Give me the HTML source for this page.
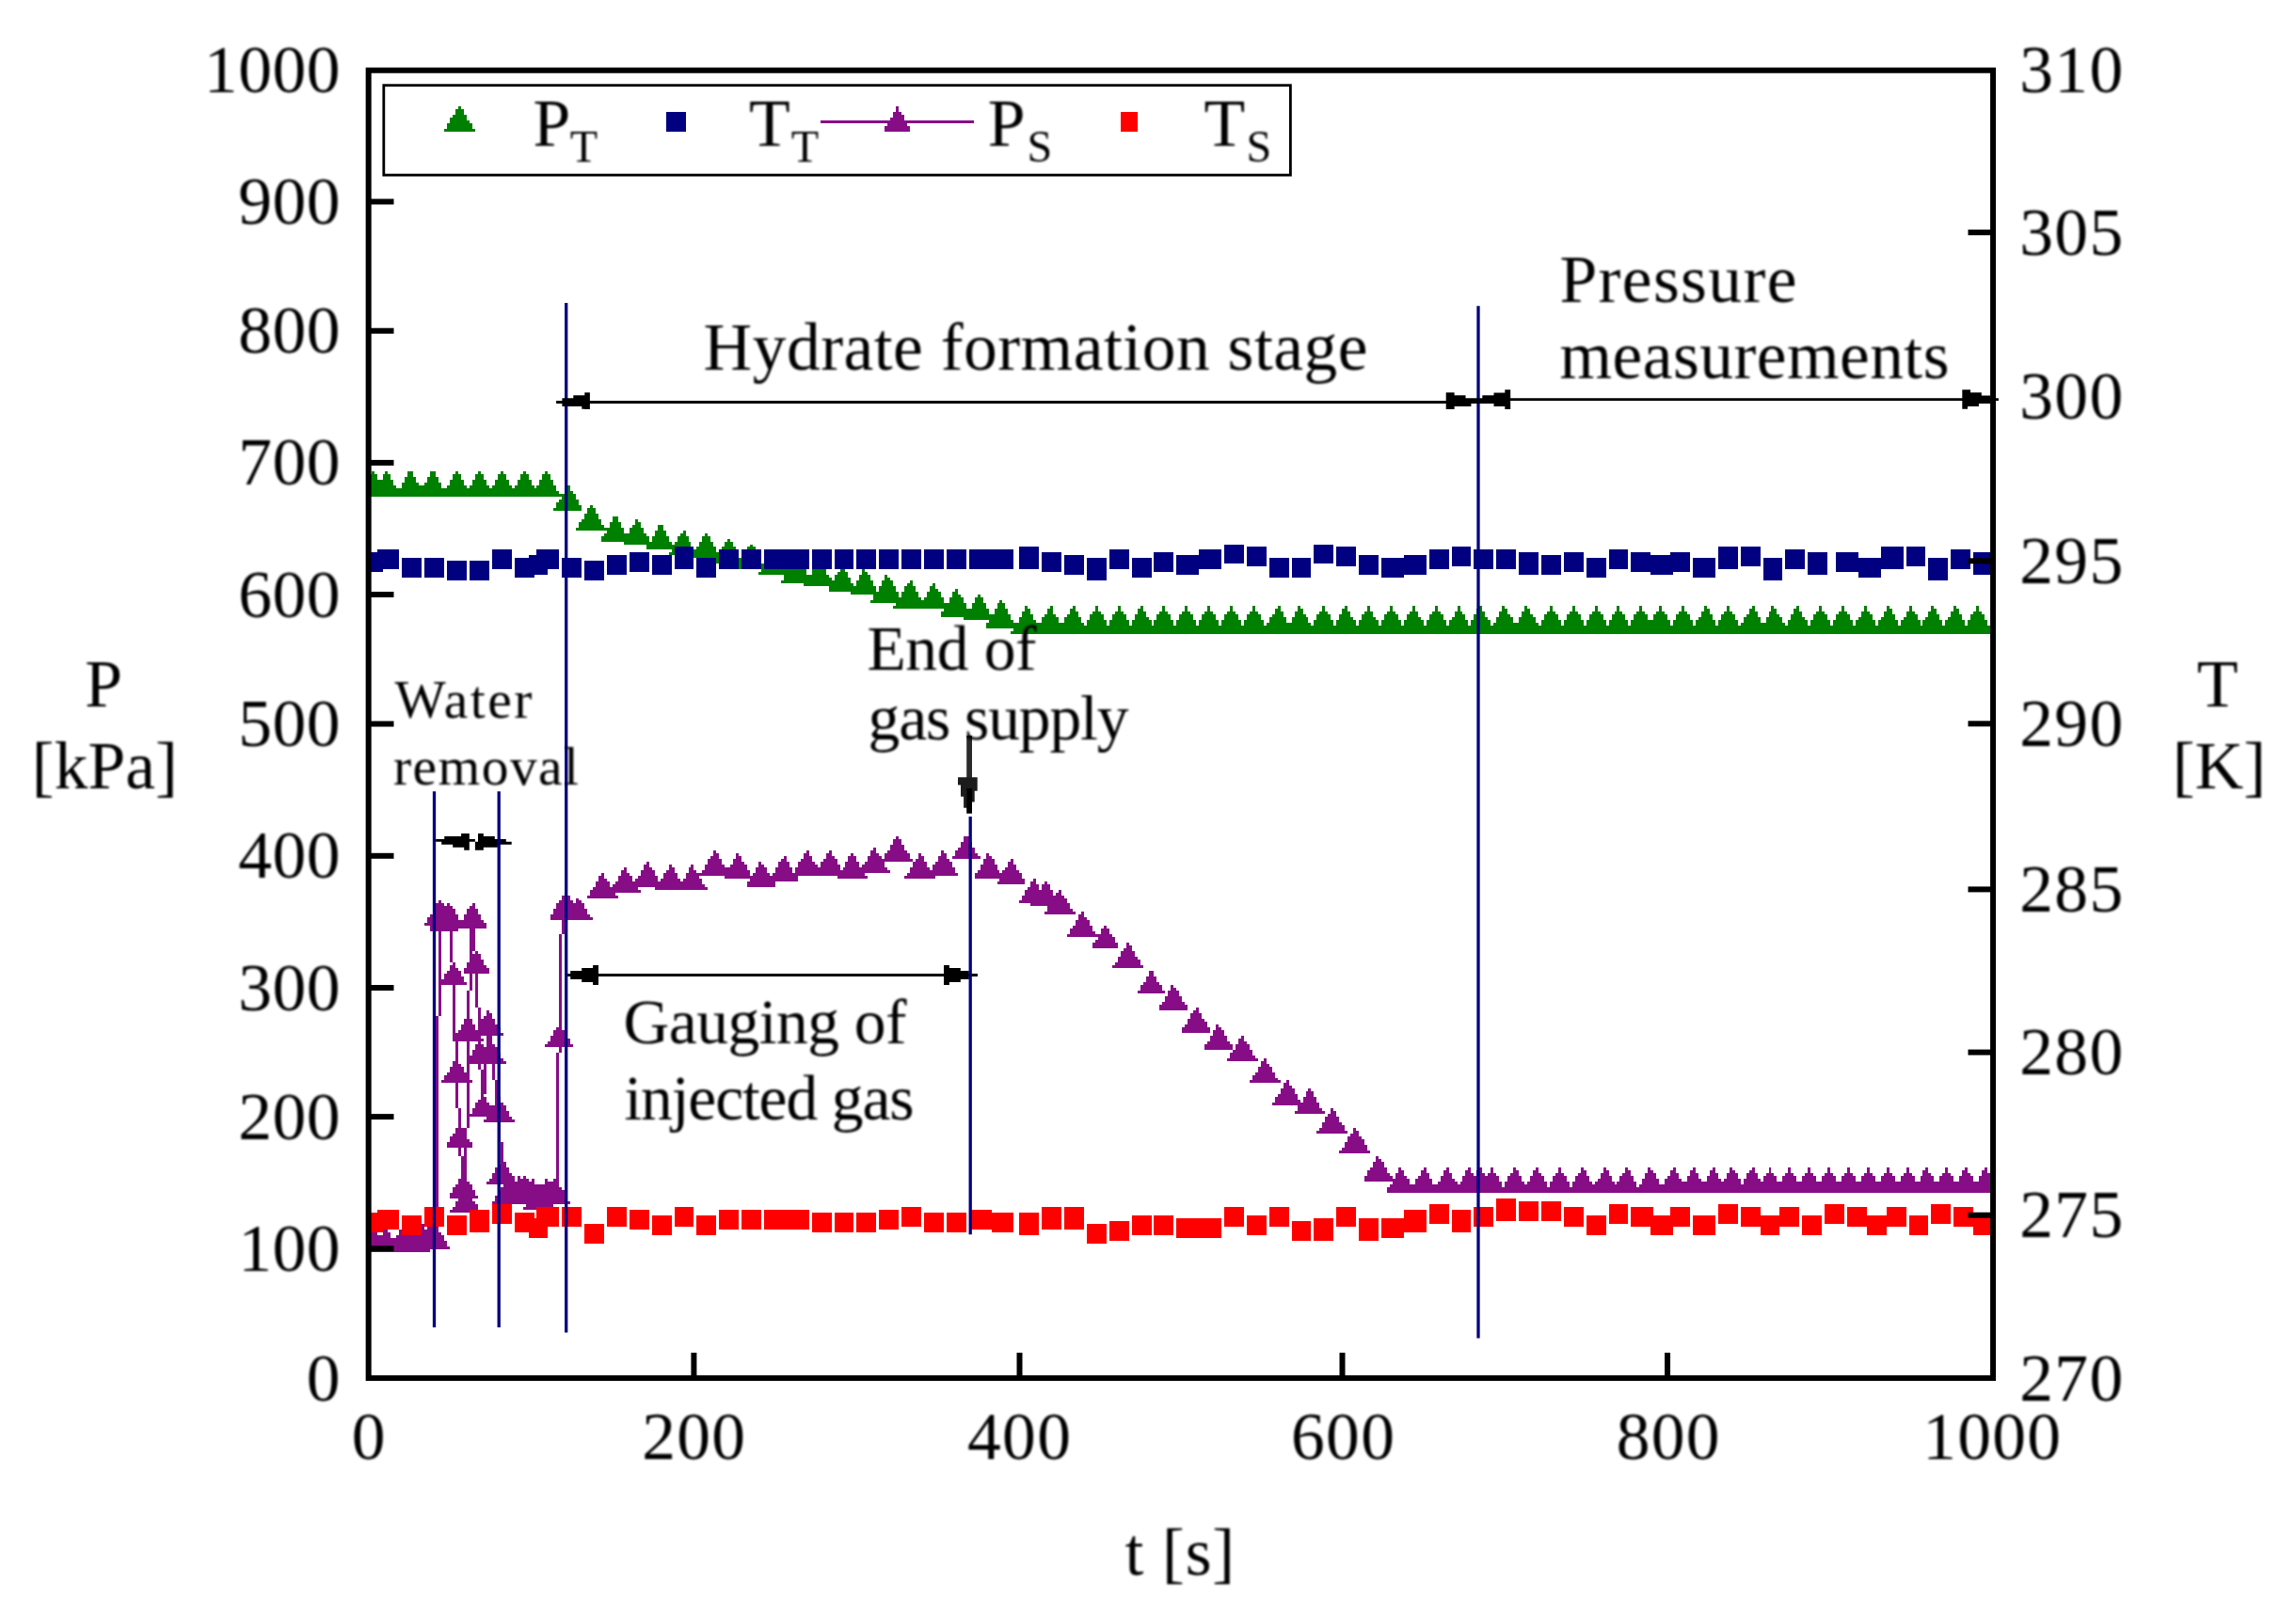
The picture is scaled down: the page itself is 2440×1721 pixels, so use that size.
<!DOCTYPE html>
<html lang="en"><head><meta charset="utf-8"><title>Hydrate formation: pressure and temperature vs time</title>
<style>html,body{margin:0;padding:0;background:#fff}svg{display:block}text{white-space:pre}</style></head>
<body>
<svg width="2440" height="1721" viewBox="0 0 2440 1721" font-family="'Liberation Serif', serif" fill="#000">
<rect width="2440" height="1721" fill="#fff"/>
<defs><filter id="soft" x="0" y="0" width="2440" height="1721" filterUnits="userSpaceOnUse"><feGaussianBlur stdDeviation="0.9"/></filter><filter id="soft2" x="0" y="0" width="2440" height="1721" filterUnits="userSpaceOnUse"><feGaussianBlur stdDeviation="0.55"/></filter><clipPath id="plot"><rect x="391.65" y="74.75" width="1726.4" height="1390.15"/></clipPath></defs>
<g filter="url(#soft2)">
<g clip-path="url(#plot)" shape-rendering="crispEdges">
<path fill="#008000" d="M395 501h3v3h-3zM392 504h9v3h-9zM392 507h9v3h-9zM389 510h15v3h-15zM389 513h18v3h-18zM386 516h21v3h-21zM386 519h23v3h-23zM383 522h26v3h-26zM380 525h32v3h-32zM409 501h3v3h-3zM407 504h8v3h-8zM407 507h8v3h-8zM404 510h14v3h-14zM404 513h14v3h-14zM401 516h20v3h-20zM398 519h26v3h-26zM398 522h26v3h-26zM395 525h32v3h-32zM433 501h6v3h-6zM433 504h6v3h-6zM430 507h12v3h-12zM430 510h12v3h-12zM427 513h18v3h-18zM427 516h21v3h-21zM424 519h24v3h-24zM421 522h30v3h-30zM421 525h30v3h-30zM457 501h6v3h-6zM457 504h6v3h-6zM454 507h12v3h-12zM454 510h12v3h-12zM451 513h18v3h-18zM448 516h21v3h-21zM448 519h24v3h-24zM445 522h30v3h-30zM445 525h30v3h-30zM484 501h3v3h-3zM481 504h9v3h-9zM481 507h9v3h-9zM478 510h15v3h-15zM478 513h15v3h-15zM475 516h21v3h-21zM472 519h24v3h-24zM472 522h27v3h-27zM469 525h33v3h-33zM508 501h3v3h-3zM505 504h9v3h-9zM505 507h9v3h-9zM502 510h15v3h-15zM502 513h15v3h-15zM499 516h21v3h-21zM496 519h27v3h-27zM496 522h27v3h-27zM493 525h33v3h-33zM532 501h3v3h-3zM529 504h9v3h-9zM529 507h9v3h-9zM526 510h15v3h-15zM526 513h15v3h-15zM523 516h21v3h-21zM520 519h27v3h-27zM520 522h27v3h-27zM517 525h33v3h-33zM556 501h3v3h-3zM553 504h9v3h-9zM553 507h9v3h-9zM550 510h15v3h-15zM550 513h15v3h-15zM547 516h21v3h-21zM544 519h24v3h-24zM544 522h26v3h-26zM541 525h32v3h-32zM579 501h3v3h-3zM576 504h9v3h-9zM576 507h9v3h-9zM573 510h15v3h-15zM573 513h15v3h-15zM570 516h21v3h-21zM568 519h23v3h-23zM568 522h26v3h-26zM565 525h32v3h-32zM603 516h3v3h-3zM600 519h6v3h-6zM600 522h9v3h-9zM597 525h15v3h-15zM597 528h15v3h-15zM594 531h21v3h-21zM591 534h24v3h-24zM591 537h27v3h-27zM588 540h30v3h-30zM627 537h3v3h-3zM624 540h9v3h-9zM624 543h9v3h-9zM621 546h15v3h-15zM621 549h15v3h-15zM618 552h21v3h-21zM615 555h24v3h-24zM615 558h27v3h-27zM612 561h33v3h-33zM651 549h6v3h-6zM651 552h6v3h-6zM648 555h12v3h-12zM648 558h12v3h-12zM645 561h18v3h-18zM645 564h18v3h-18zM642 567h24v3h-24zM639 570h30v3h-30zM639 573h30v3h-30zM675 552h3v3h-3zM675 555h6v3h-6zM672 558h9v3h-9zM669 561h15v3h-15zM669 564h15v3h-15zM666 567h21v3h-21zM666 570h24v3h-24zM663 573h27v3h-27zM663 576h30v3h-30zM699 558h6v3h-6zM699 561h6v3h-6zM696 564h12v3h-12zM696 567h12v3h-12zM693 570h18v3h-18zM693 573h18v3h-18zM690 576h24v3h-24zM687 579h30v2h-30zM687 581h30v3h-30zM726 564h3v3h-3zM723 567h6v3h-6zM720 570h12v3h-12zM720 573h12v3h-12zM717 576h17v3h-17zM717 579h17v2h-17zM714 581h23v3h-23zM714 584h26v3h-26zM711 587h29v3h-29zM749 567h3v3h-3zM746 570h9v3h-9zM746 573h9v3h-9zM743 576h15v3h-15zM743 579h15v2h-15zM740 581h21v3h-21zM737 584h24v3h-24zM737 587h27v3h-27zM734 590h33v3h-33zM773 573h3v3h-3zM770 576h9v3h-9zM770 579h9v2h-9zM767 581h15v3h-15zM767 584h15v3h-15zM764 587h21v3h-21zM764 590h21v3h-21zM761 593h27v3h-27zM758 596h33v3h-33zM797 579h3v2h-3zM794 581h9v3h-9zM794 584h9v3h-9zM791 587h15v3h-15zM791 590h15v3h-15zM788 593h21v3h-21zM785 596h24v3h-24zM785 599h27v3h-27zM782 602h33v3h-33zM821 584h3v3h-3zM818 587h9v3h-9zM818 590h9v3h-9zM815 593h15v3h-15zM815 596h15v3h-15zM812 599h21v3h-21zM812 602h24v3h-24zM809 605h27v3h-27zM806 608h33v3h-33zM845 590h3v3h-3zM845 593h6v3h-6zM842 596h9v3h-9zM839 599h15v3h-15zM839 602h15v3h-15zM836 605h21v3h-21zM836 608h21v3h-21zM833 611h27v3h-27zM833 614h30v3h-30zM830 617h33v3h-33zM869 596h3v3h-3zM866 599h9v3h-9zM866 602h9v3h-9zM863 605h15v3h-15zM863 608h15v3h-15zM860 611h21v3h-21zM860 614h24v3h-24zM857 617h27v3h-27zM854 620h33v3h-33zM893 602h3v3h-3zM893 605h5v3h-5zM890 608h11v3h-11zM887 611h14v3h-14zM887 614h17v3h-17zM884 617h20v3h-20zM884 620h23v3h-23zM881 623h26v3h-26zM881 626h29v3h-29zM916 605h3v3h-3zM916 608h6v3h-6zM913 611h12v3h-12zM913 614h12v3h-12zM910 617h18v3h-18zM910 620h18v3h-18zM907 623h24v3h-24zM904 626h27v3h-27zM904 629h30v3h-30zM940 611h3v3h-3zM940 614h6v3h-6zM937 617h12v3h-12zM937 620h12v3h-12zM934 623h18v3h-18zM934 626h18v3h-18zM931 629h24v3h-24zM928 632h27v3h-27zM928 635h30v3h-30zM925 638h36v3h-36zM967 617h3v3h-3zM964 620h6v3h-6zM961 623h12v3h-12zM961 626h12v3h-12zM958 629h18v3h-18zM958 632h18v3h-18zM955 635h24v3h-24zM955 638h27v3h-27zM952 641h30v3h-30zM949 644h36v3h-36zM991 620h3v3h-3zM988 623h6v3h-6zM988 626h9v3h-9zM985 629h15v3h-15zM985 632h15v3h-15zM982 635h21v3h-21zM979 638h24v3h-24zM979 641h27v3h-27zM976 644h30v3h-30zM1015 626h3v3h-3zM1012 629h6v3h-6zM1012 632h9v3h-9zM1009 635h15v3h-15zM1009 638h15v3h-15zM1006 641h21v3h-21zM1003 644h24v3h-24zM1003 647h27v3h-27zM1000 650h30v3h-30zM1000 653h33v3h-33zM1039 632h3v3h-3zM1036 635h9v3h-9zM1036 638h9v3h-9zM1033 641h15v3h-15zM1033 644h15v3h-15zM1030 647h21v3h-21zM1030 650h21v3h-21zM1027 653h27v3h-27zM1024 656h33v3h-33zM1062 638h3v3h-3zM1060 641h8v3h-8zM1060 644h8v3h-8zM1057 647h14v3h-14zM1057 650h14v3h-14zM1054 653h20v3h-20zM1054 656h20v3h-20zM1051 659h26v3h-26zM1048 662h32v3h-32zM1048 665h32v3h-32zM1089 644h3v3h-3zM1089 647h6v3h-6zM1086 650h9v3h-9zM1086 653h12v3h-12zM1083 656h15v3h-15zM1083 659h18v3h-18zM1080 662h24v3h-24zM1080 665h24v3h-24zM1077 668h30v3h-30zM1074 671h33v3h-33zM1116 644h3v3h-3zM1113 647h6v3h-6zM1113 650h6v3h-6zM1110 653h12v3h-12zM1107 656h18v3h-18zM1107 659h18v3h-18zM1104 662h24v3h-24zM1104 665h24v3h-24zM1101 668h30v3h-30zM1101 671h33v3h-33zM1140 644h3v3h-3zM1137 647h6v3h-6zM1137 650h9v3h-9zM1134 653h12v3h-12zM1131 656h18v3h-18zM1131 659h18v3h-18zM1128 662h24v3h-24zM1128 665h24v3h-24zM1125 668h30v3h-30zM1125 671h33v3h-33zM1164 644h3v3h-3zM1164 647h3v3h-3zM1161 650h9v3h-9zM1158 653h15v3h-15zM1158 656h15v3h-15zM1155 659h21v3h-21zM1155 662h21v3h-21zM1152 665h27v3h-27zM1152 668h27v3h-27zM1149 671h33v3h-33zM1188 644h3v3h-3zM1188 647h3v3h-3zM1185 650h9v3h-9zM1182 653h15v3h-15zM1182 656h15v3h-15zM1179 659h21v3h-21zM1179 662h21v3h-21zM1176 665h27v3h-27zM1176 668h27v3h-27zM1173 671h33v3h-33zM1212 644h3v3h-3zM1209 647h6v3h-6zM1209 650h9v3h-9zM1206 653h12v3h-12zM1206 656h15v3h-15zM1203 659h21v3h-21zM1203 662h21v3h-21zM1200 665h26v3h-26zM1197 668h29v3h-29zM1197 671h32v3h-32zM1235 644h3v3h-3zM1235 647h3v3h-3zM1232 650h9v3h-9zM1229 653h15v3h-15zM1229 656h15v3h-15zM1226 659h21v3h-21zM1226 662h21v3h-21zM1224 665h26v3h-26zM1224 668h26v3h-26zM1221 671h32v3h-32zM1259 644h3v3h-3zM1259 647h3v3h-3zM1256 650h9v3h-9zM1253 653h15v3h-15zM1253 656h15v3h-15zM1250 659h21v3h-21zM1250 662h21v3h-21zM1247 665h27v3h-27zM1247 668h27v3h-27zM1244 671h33v3h-33zM1283 644h3v3h-3zM1283 647h3v3h-3zM1280 650h9v3h-9zM1277 653h15v3h-15zM1277 656h15v3h-15zM1274 659h21v3h-21zM1274 662h21v3h-21zM1271 665h27v3h-27zM1271 668h27v3h-27zM1268 671h33v3h-33zM1307 644h3v3h-3zM1307 647h3v3h-3zM1304 650h9v3h-9zM1301 653h15v3h-15zM1301 656h15v3h-15zM1298 659h21v3h-21zM1298 662h21v3h-21zM1295 665h27v3h-27zM1295 668h27v3h-27zM1292 671h33v3h-33zM1331 644h3v3h-3zM1331 647h3v3h-3zM1328 650h9v3h-9zM1325 653h15v3h-15zM1325 656h15v3h-15zM1322 659h21v3h-21zM1322 662h21v3h-21zM1319 665h27v3h-27zM1319 668h27v3h-27zM1316 671h33v3h-33zM1358 644h3v3h-3zM1355 647h6v3h-6zM1355 650h9v3h-9zM1352 653h12v3h-12zM1349 656h18v3h-18zM1349 659h18v3h-18zM1346 662h24v3h-24zM1346 665h24v3h-24zM1343 668h30v3h-30zM1343 671h33v3h-33zM1379 644h3v3h-3zM1379 647h6v3h-6zM1376 650h9v3h-9zM1376 653h12v3h-12zM1373 656h17v3h-17zM1373 659h17v3h-17zM1370 662h23v3h-23zM1370 665h23v3h-23zM1367 668h29v3h-29zM1364 671h32v3h-32zM1405 644h3v3h-3zM1405 647h3v3h-3zM1402 650h9v3h-9zM1399 653h15v3h-15zM1399 656h15v3h-15zM1396 659h21v3h-21zM1396 662h21v3h-21zM1393 665h27v3h-27zM1393 668h27v3h-27zM1390 671h33v3h-33zM1429 644h3v3h-3zM1426 647h6v3h-6zM1426 650h9v3h-9zM1423 653h12v3h-12zM1423 656h15v3h-15zM1420 659h21v3h-21zM1420 662h21v3h-21zM1417 665h27v3h-27zM1414 668h30v3h-30zM1414 671h33v3h-33zM1453 644h3v3h-3zM1453 647h3v3h-3zM1450 650h9v3h-9zM1447 653h12v3h-12zM1447 656h15v3h-15zM1444 659h21v3h-21zM1444 662h21v3h-21zM1441 665h27v3h-27zM1441 668h27v3h-27zM1438 671h33v3h-33zM1477 644h3v3h-3zM1477 647h3v3h-3zM1474 650h9v3h-9zM1471 653h15v3h-15zM1471 656h15v3h-15zM1468 659h21v3h-21zM1468 662h21v3h-21zM1465 665h27v3h-27zM1465 668h27v3h-27zM1462 671h33v3h-33zM1501 644h3v3h-3zM1501 647h3v3h-3zM1498 650h9v3h-9zM1495 653h12v3h-12zM1495 656h15v3h-15zM1492 659h21v3h-21zM1492 662h21v3h-21zM1489 665h27v3h-27zM1489 668h27v3h-27zM1486 671h33v3h-33zM1525 644h3v3h-3zM1525 647h3v3h-3zM1522 650h9v3h-9zM1519 653h15v3h-15zM1519 656h15v3h-15zM1516 659h21v3h-21zM1516 662h21v3h-21zM1513 665h27v3h-27zM1513 668h27v3h-27zM1510 671h33v3h-33zM1549 644h3v3h-3zM1549 647h3v3h-3zM1546 650h8v3h-8zM1546 653h11v3h-11zM1543 656h14v3h-14zM1540 659h20v3h-20zM1540 662h20v3h-20zM1537 665h26v3h-26zM1537 668h26v3h-26zM1534 671h32v3h-32zM1572 644h3v3h-3zM1569 647h6v3h-6zM1569 650h9v3h-9zM1566 653h12v3h-12zM1566 656h15v3h-15zM1563 659h21v3h-21zM1563 662h21v3h-21zM1560 665h27v3h-27zM1557 668h30v3h-30zM1557 671h33v3h-33zM1596 644h3v3h-3zM1596 647h6v3h-6zM1593 650h9v3h-9zM1593 653h12v3h-12zM1590 656h18v3h-18zM1590 659h18v3h-18zM1587 662h24v3h-24zM1587 665h24v3h-24zM1584 668h30v3h-30zM1581 671h33v3h-33zM1620 644h3v3h-3zM1620 647h6v3h-6zM1617 650h9v3h-9zM1617 653h12v3h-12zM1614 656h18v3h-18zM1614 659h18v3h-18zM1611 662h24v3h-24zM1611 665h24v3h-24zM1608 668h30v3h-30zM1605 671h33v3h-33zM1647 644h3v3h-3zM1647 647h3v3h-3zM1644 650h9v3h-9zM1641 653h15v3h-15zM1641 656h15v3h-15zM1638 659h21v3h-21zM1638 662h21v3h-21zM1635 665h27v3h-27zM1635 668h27v3h-27zM1632 671h33v3h-33zM1671 644h3v3h-3zM1671 647h3v3h-3zM1668 650h9v3h-9zM1665 653h15v3h-15zM1665 656h15v3h-15zM1662 659h21v3h-21zM1662 662h21v3h-21zM1659 665h27v3h-27zM1659 668h27v3h-27zM1656 671h33v3h-33zM1695 644h3v3h-3zM1695 647h3v3h-3zM1692 650h9v3h-9zM1689 653h15v3h-15zM1689 656h15v3h-15zM1686 659h21v3h-21zM1686 662h21v3h-21zM1683 665h27v3h-27zM1683 668h27v3h-27zM1680 671h33v3h-33zM1718 644h3v3h-3zM1718 647h3v3h-3zM1716 650h8v3h-8zM1713 653h14v3h-14zM1713 656h14v3h-14zM1710 659h20v3h-20zM1710 662h20v3h-20zM1707 665h26v3h-26zM1707 668h26v3h-26zM1704 671h32v3h-32zM1742 644h3v3h-3zM1742 647h3v3h-3zM1739 650h9v3h-9zM1736 653h15v3h-15zM1736 656h15v3h-15zM1733 659h21v3h-21zM1733 662h21v3h-21zM1730 665h27v3h-27zM1730 668h27v3h-27zM1727 671h33v3h-33zM1763 644h3v3h-3zM1763 647h3v3h-3zM1760 650h9v3h-9zM1757 653h15v3h-15zM1757 656h15v3h-15zM1754 659h21v3h-21zM1754 662h21v3h-21zM1751 665h27v3h-27zM1751 668h27v3h-27zM1748 671h33v3h-33zM1787 644h3v3h-3zM1787 647h3v3h-3zM1784 650h9v3h-9zM1781 653h15v3h-15zM1781 656h15v3h-15zM1778 659h21v3h-21zM1778 662h21v3h-21zM1775 665h27v3h-27zM1775 668h27v3h-27zM1772 671h33v3h-33zM1811 644h3v3h-3zM1811 647h6v3h-6zM1808 650h9v3h-9zM1808 653h12v3h-12zM1805 656h15v3h-15zM1802 659h21v3h-21zM1802 662h21v3h-21zM1799 665h27v3h-27zM1799 668h30v3h-30zM1796 671h33v3h-33zM1835 644h3v3h-3zM1835 647h3v3h-3zM1832 650h9v3h-9zM1829 653h15v3h-15zM1829 656h15v3h-15zM1826 659h21v3h-21zM1826 662h21v3h-21zM1823 665h27v3h-27zM1823 668h27v3h-27zM1820 671h33v3h-33zM1862 644h3v3h-3zM1859 647h6v3h-6zM1859 650h9v3h-9zM1856 653h12v3h-12zM1853 656h18v3h-18zM1853 659h18v3h-18zM1850 662h24v3h-24zM1850 665h24v3h-24zM1847 668h30v3h-30zM1847 671h33v3h-33zM1882 644h3v3h-3zM1882 647h6v3h-6zM1880 650h8v3h-8zM1880 653h11v3h-11zM1877 656h17v3h-17zM1877 659h17v3h-17zM1874 662h23v3h-23zM1874 665h23v3h-23zM1871 668h29v3h-29zM1868 671h32v3h-32zM1909 644h3v3h-3zM1906 647h6v3h-6zM1906 650h9v3h-9zM1903 653h12v3h-12zM1903 656h15v3h-15zM1900 659h21v3h-21zM1900 662h21v3h-21zM1897 665h27v3h-27zM1894 668h30v3h-30zM1894 671h33v3h-33zM1933 644h3v3h-3zM1933 647h3v3h-3zM1930 650h9v3h-9zM1927 653h15v3h-15zM1927 656h15v3h-15zM1924 659h21v3h-21zM1924 662h21v3h-21zM1921 665h27v3h-27zM1921 668h27v3h-27zM1918 671h33v3h-33zM1957 644h3v3h-3zM1957 647h3v3h-3zM1954 650h9v3h-9zM1951 653h15v3h-15zM1951 656h15v3h-15zM1948 659h21v3h-21zM1948 662h21v3h-21zM1945 665h27v3h-27zM1945 668h27v3h-27zM1942 671h33v3h-33zM1981 644h3v3h-3zM1981 647h3v3h-3zM1978 650h9v3h-9zM1978 653h12v3h-12zM1975 656h15v3h-15zM1972 659h21v3h-21zM1972 662h21v3h-21zM1969 665h27v3h-27zM1969 668h27v3h-27zM1966 671h33v3h-33zM2005 644h3v3h-3zM2005 647h6v3h-6zM2002 650h9v3h-9zM2002 653h12v3h-12zM1999 656h15v3h-15zM1996 659h21v3h-21zM1996 662h21v3h-21zM1993 665h27v3h-27zM1993 668h30v3h-30zM1990 671h33v3h-33zM2029 644h3v3h-3zM2029 647h3v3h-3zM2026 650h9v3h-9zM2026 653h12v3h-12zM2023 656h15v3h-15zM2020 659h21v3h-21zM2020 662h21v3h-21zM2017 665h26v3h-26zM2017 668h26v3h-26zM2014 671h32v3h-32zM2052 644h3v3h-3zM2052 647h6v3h-6zM2049 650h9v3h-9zM2049 653h12v3h-12zM2046 656h15v3h-15zM2043 659h21v3h-21zM2043 662h21v3h-21zM2041 665h26v3h-26zM2041 668h29v3h-29zM2038 671h32v3h-32zM2076 644h3v3h-3zM2076 647h6v3h-6zM2073 650h9v3h-9zM2073 653h12v3h-12zM2070 656h15v3h-15zM2067 659h21v3h-21zM2067 662h21v3h-21zM2064 665h27v3h-27zM2064 668h30v3h-30zM2061 671h33v3h-33zM2100 644h3v3h-3zM2100 647h3v3h-3zM2097 650h9v3h-9zM2094 653h15v3h-15zM2094 656h15v3h-15zM2091 659h21v3h-21zM2091 662h21v3h-21zM2088 665h27v3h-27zM2088 668h27v3h-27zM2085 671h33v3h-33z"/>
<path fill="#000080" d="M386 587h21v21h-21zM401 584h23v21h-23zM427 593h21v21h-21zM451 593h21v21h-21zM475 596h21v21h-21zM499 596h21v21h-21zM523 584h21v21h-21zM547 593h21v21h-21zM562 590h20v21h-20zM570 584h24v21h-24zM597 593h21v21h-21zM621 596h21v21h-21zM645 590h21v21h-21zM669 587h21v21h-21zM693 590h21v21h-21zM717 581h20v24h-20zM740 593h21v21h-21zM764 584h21v21h-21zM788 584h21v21h-21zM812 584h24v21h-24zM836 584h24v21h-24zM863 584h21v21h-21zM887 584h20v21h-20zM910 584h21v21h-21zM934 584h21v21h-21zM958 584h21v21h-21zM982 584h21v21h-21zM1006 584h21v21h-21zM1030 584h24v21h-24zM1054 584h23v21h-23zM1083 581h21v24h-21zM1107 587h21v21h-21zM1131 590h21v21h-21zM1155 593h21v24h-21zM1179 584h21v21h-21zM1203 593h21v21h-21zM1226 587h21v21h-21zM1250 590h24v21h-24zM1274 584h24v21h-24zM1301 579h21v20h-21zM1325 581h21v21h-21zM1349 593h21v21h-21zM1373 593h20v21h-20zM1396 579h21v20h-21zM1420 581h21v21h-21zM1444 590h21v21h-21zM1468 593h24v21h-24zM1492 590h24v21h-24zM1519 584h21v21h-21zM1543 581h20v21h-20zM1566 584h21v21h-21zM1590 584h21v21h-21zM1614 587h21v24h-21zM1638 590h21v21h-21zM1662 587h21v21h-21zM1686 593h21v21h-21zM1710 584h20v21h-20zM1733 587h21v21h-21zM1754 590h24v21h-24zM1775 587h21v21h-21zM1799 593h24v21h-24zM1826 581h21v24h-21zM1850 581h21v21h-21zM1874 593h20v24h-20zM1897 584h21v21h-21zM1921 587h21v24h-21zM1951 587h24v21h-24zM1975 593h24v21h-24zM1999 581h24v24h-24zM2026 581h20v21h-20zM2049 593h21v24h-21zM2073 584h21v21h-21zM2097 587h21v24h-21z"/>
<path fill="#870b87" d="M392 1316h3v3h-3zM395 1316h3v3h-3zM398 1316h3v3h-3zM401 1316h3v3h-3zM404 1316h3v3h-3zM407 1316h2v3h-2zM409 1316h3v3h-3zM412 1316h3v3h-3zM415 1316h3v3h-3zM418 1316h3v3h-3zM421 1316h3v3h-3zM424 1316h3v3h-3zM427 1316h3v3h-3zM430 1316h3v3h-3zM433 1316h3v3h-3zM436 1316h3v3h-3zM439 1316h3v3h-3zM442 1316h3v3h-3zM445 1313h3v3h-3zM445 1316h3v3h-3zM448 1313h3v3h-3zM451 1313h3v3h-3zM454 1313h3v3h-3zM457 1313h3v3h-3zM460 1304h3v3h-3zM460 1307h3v3h-3zM460 1310h3v3h-3zM460 1313h3v3h-3zM463 1080h3v3h-3zM463 1083h3v3h-3zM463 1086h3v3h-3zM463 1089h3v3h-3zM463 1092h3v3h-3zM463 1095h3v3h-3zM463 1098h3v3h-3zM463 1101h3v3h-3zM463 1104h3v3h-3zM463 1107h3v3h-3zM463 1110h3v3h-3zM463 1113h3v3h-3zM463 1116h3v3h-3zM463 1119h3v3h-3zM463 1122h3v3h-3zM463 1125h3v3h-3zM463 1128h3v3h-3zM463 1131h3v3h-3zM463 1134h3v3h-3zM463 1137h3v3h-3zM463 1140h3v3h-3zM463 1143h3v3h-3zM463 1146h3v2h-3zM463 1148h3v3h-3zM463 1151h3v3h-3zM463 1154h3v3h-3zM463 1157h3v3h-3zM463 1160h3v3h-3zM463 1163h3v3h-3zM463 1166h3v3h-3zM463 1169h3v3h-3zM463 1172h3v3h-3zM463 1175h3v3h-3zM463 1178h3v3h-3zM463 1181h3v3h-3zM463 1184h3v3h-3zM463 1187h3v3h-3zM463 1190h3v3h-3zM463 1193h3v3h-3zM463 1196h3v3h-3zM463 1199h3v3h-3zM463 1202h3v3h-3zM463 1205h3v3h-3zM463 1208h3v3h-3zM463 1211h3v3h-3zM463 1214h3v3h-3zM463 1217h3v3h-3zM463 1220h3v3h-3zM463 1223h3v3h-3zM463 1226h3v3h-3zM463 1229h3v3h-3zM463 1232h3v3h-3zM463 1235h3v3h-3zM463 1238h3v3h-3zM463 1241h3v3h-3zM463 1244h3v3h-3zM463 1247h3v3h-3zM463 1250h3v3h-3zM463 1253h3v3h-3zM463 1256h3v3h-3zM463 1259h3v3h-3zM463 1262h3v3h-3zM463 1265h3v3h-3zM463 1268h3v3h-3zM463 1271h3v3h-3zM463 1274h3v3h-3zM463 1277h3v3h-3zM463 1280h3v3h-3zM463 1283h3v3h-3zM463 1286h3v3h-3zM463 1289h3v3h-3zM463 1292h3v3h-3zM463 1295h3v3h-3zM463 1298h3v3h-3zM463 1301h3v3h-3zM466 969h3v3h-3zM466 972h3v3h-3zM466 975h3v3h-3zM466 978h3v3h-3zM466 981h3v3h-3zM466 984h3v3h-3zM466 987h3v3h-3zM466 990h3v3h-3zM466 993h3v3h-3zM466 996h3v3h-3zM466 999h3v3h-3zM466 1002h3v3h-3zM466 1005h3v3h-3zM466 1008h3v3h-3zM466 1011h3v3h-3zM466 1014h3v3h-3zM466 1017h3v3h-3zM466 1020h3v3h-3zM466 1023h3v3h-3zM466 1026h3v3h-3zM466 1029h3v3h-3zM466 1032h3v3h-3zM466 1035h3v3h-3zM466 1038h3v3h-3zM466 1041h3v3h-3zM466 1044h3v3h-3zM466 1047h3v3h-3zM466 1050h3v3h-3zM466 1053h3v3h-3zM466 1056h3v3h-3zM466 1059h3v3h-3zM466 1062h3v3h-3zM466 1065h3v3h-3zM466 1068h3v3h-3zM466 1071h3v3h-3zM466 1074h3v3h-3zM466 1077h3v3h-3zM469 972h3v3h-3zM472 975h3v3h-3zM475 972h3v3h-3zM478 975h3v3h-3zM478 978h3v3h-3zM478 981h3v3h-3zM478 984h3v3h-3zM478 987h3v3h-3zM478 990h3v3h-3zM478 993h3v3h-3zM478 996h3v3h-3zM478 999h3v3h-3zM478 1002h3v3h-3zM478 1005h3v3h-3zM478 1008h3v3h-3zM478 1011h3v3h-3zM478 1014h3v3h-3zM478 1017h3v3h-3zM478 1020h3v3h-3zM481 1023h3v3h-3zM481 1026h3v3h-3zM481 1029h3v3h-3zM481 1032h3v3h-3zM481 1035h3v3h-3zM481 1038h3v3h-3zM481 1041h3v3h-3zM481 1044h3v3h-3zM481 1047h3v3h-3zM481 1050h3v3h-3zM481 1053h3v3h-3zM481 1056h3v3h-3zM481 1059h3v3h-3zM481 1062h3v3h-3zM481 1065h3v3h-3zM481 1068h3v3h-3zM481 1071h3v3h-3zM481 1074h3v3h-3zM481 1077h3v3h-3zM481 1080h3v3h-3zM481 1083h3v3h-3zM481 1086h3v3h-3zM481 1089h3v3h-3zM481 1092h3v3h-3zM481 1095h3v3h-3zM481 1098h3v3h-3zM481 1101h3v3h-3zM484 1104h3v3h-3zM484 1107h3v3h-3zM484 1110h3v3h-3zM484 1113h3v3h-3zM484 1116h3v3h-3zM484 1119h3v3h-3zM484 1122h3v3h-3zM484 1125h3v3h-3zM484 1128h3v3h-3zM484 1131h3v3h-3zM484 1134h3v3h-3zM484 1137h3v3h-3zM484 1140h3v3h-3zM484 1143h3v3h-3zM484 1146h3v2h-3zM484 1148h3v3h-3zM484 1151h3v3h-3zM484 1154h3v3h-3zM484 1157h3v3h-3zM484 1160h3v3h-3zM484 1163h3v3h-3zM484 1166h3v3h-3zM484 1169h3v3h-3zM484 1172h3v3h-3zM484 1175h3v3h-3zM487 1178h3v3h-3zM487 1181h3v3h-3zM487 1184h3v3h-3zM487 1187h3v3h-3zM487 1190h3v3h-3zM487 1193h3v3h-3zM487 1196h3v3h-3zM487 1199h3v3h-3zM487 1202h3v3h-3zM487 1205h3v3h-3zM487 1208h3v3h-3zM487 1211h3v3h-3zM487 1214h3v3h-3zM487 1217h3v3h-3zM487 1220h3v3h-3zM487 1223h3v3h-3zM487 1226h3v3h-3zM490 1229h3v3h-3zM490 1232h3v3h-3zM490 1235h3v3h-3zM490 1238h3v3h-3zM490 1241h3v3h-3zM490 1244h3v3h-3zM490 1247h3v3h-3zM490 1250h3v3h-3zM490 1253h3v3h-3zM490 1256h3v3h-3zM490 1259h3v3h-3zM490 1262h3v3h-3zM493 1199h3v3h-3zM493 1202h3v3h-3zM493 1205h3v3h-3zM493 1208h3v3h-3zM493 1211h3v3h-3zM493 1214h3v3h-3zM493 1217h3v3h-3zM493 1220h3v3h-3zM493 1223h3v3h-3zM493 1226h3v3h-3zM493 1229h3v3h-3zM493 1232h3v3h-3zM493 1235h3v3h-3zM493 1238h3v3h-3zM493 1241h3v3h-3zM493 1244h3v3h-3zM493 1247h3v3h-3zM493 1250h3v3h-3zM493 1253h3v3h-3zM493 1256h3v3h-3zM493 1259h3v3h-3zM493 1262h3v3h-3zM493 1265h3v3h-3zM493 1268h3v3h-3zM493 1271h3v3h-3zM493 1274h3v3h-3zM496 1053h3v3h-3zM496 1056h3v3h-3zM496 1059h3v3h-3zM496 1062h3v3h-3zM496 1065h3v3h-3zM496 1068h3v3h-3zM496 1071h3v3h-3zM496 1074h3v3h-3zM496 1077h3v3h-3zM496 1080h3v3h-3zM496 1083h3v3h-3zM496 1086h3v3h-3zM496 1089h3v3h-3zM496 1092h3v3h-3zM496 1095h3v3h-3zM496 1098h3v3h-3zM496 1101h3v3h-3zM496 1104h3v3h-3zM496 1107h3v3h-3zM496 1110h3v3h-3zM496 1113h3v3h-3zM496 1116h3v3h-3zM496 1119h3v3h-3zM496 1122h3v3h-3zM496 1125h3v3h-3zM496 1128h3v3h-3zM496 1131h3v3h-3zM496 1134h3v3h-3zM496 1137h3v3h-3zM496 1140h3v3h-3zM496 1143h3v3h-3zM496 1146h3v2h-3zM496 1148h3v3h-3zM496 1151h3v3h-3zM496 1154h3v3h-3zM496 1157h3v3h-3zM496 1160h3v3h-3zM496 1163h3v3h-3zM496 1166h3v3h-3zM496 1169h3v3h-3zM496 1172h3v3h-3zM496 1175h3v3h-3zM496 1178h3v3h-3zM496 1181h3v3h-3zM496 1184h3v3h-3zM496 1187h3v3h-3zM496 1190h3v3h-3zM496 1193h3v3h-3zM496 1196h3v3h-3zM499 975h3v3h-3zM499 978h3v3h-3zM499 981h3v3h-3zM499 984h3v3h-3zM499 987h3v3h-3zM499 990h3v3h-3zM499 993h3v3h-3zM499 996h3v3h-3zM499 999h3v3h-3zM499 1002h3v3h-3zM499 1005h3v3h-3zM499 1008h3v3h-3zM499 1011h3v3h-3zM499 1014h3v3h-3zM499 1017h3v3h-3zM499 1020h3v3h-3zM499 1023h3v3h-3zM499 1026h3v3h-3zM499 1029h3v3h-3zM499 1032h3v3h-3zM499 1035h3v3h-3zM499 1038h3v3h-3zM499 1041h3v3h-3zM499 1044h3v3h-3zM499 1047h3v3h-3zM499 1050h3v3h-3zM502 972h3v3h-3zM502 975h3v3h-3zM502 978h3v3h-3zM502 981h3v3h-3zM502 984h3v3h-3zM502 987h3v3h-3zM502 990h3v3h-3zM502 993h3v3h-3zM502 996h3v3h-3zM502 999h3v3h-3zM502 1002h3v3h-3zM502 1005h3v3h-3zM502 1008h3v3h-3zM505 1011h3v3h-3zM505 1014h3v3h-3zM505 1017h3v3h-3zM505 1020h3v3h-3zM505 1023h3v3h-3zM505 1026h3v3h-3zM505 1029h3v3h-3zM505 1032h3v3h-3zM505 1035h3v3h-3zM505 1038h3v3h-3zM505 1041h3v3h-3zM505 1044h3v3h-3zM505 1047h3v3h-3zM505 1050h3v3h-3zM505 1053h3v3h-3zM505 1056h3v3h-3zM505 1059h3v3h-3zM505 1062h3v3h-3zM505 1065h3v3h-3zM505 1068h3v3h-3zM508 1071h3v3h-3zM508 1074h3v3h-3zM508 1077h3v3h-3zM508 1080h3v3h-3zM508 1083h3v3h-3zM508 1086h3v3h-3zM508 1089h3v3h-3zM508 1092h3v3h-3zM508 1095h3v3h-3zM508 1098h3v3h-3zM508 1101h3v3h-3zM508 1104h3v3h-3zM508 1107h3v3h-3zM508 1110h3v3h-3zM508 1113h3v3h-3zM508 1116h3v3h-3zM508 1119h3v3h-3zM508 1122h3v3h-3zM508 1125h3v3h-3zM508 1128h3v3h-3zM508 1131h3v3h-3zM508 1134h3v3h-3zM511 1137h3v3h-3zM511 1140h3v3h-3zM511 1143h3v3h-3zM511 1146h3v2h-3zM511 1148h3v3h-3zM511 1151h3v3h-3zM511 1154h3v3h-3zM511 1157h3v3h-3zM511 1160h3v3h-3zM511 1163h3v3h-3zM511 1166h3v3h-3zM511 1169h3v3h-3zM511 1172h3v3h-3zM511 1175h3v3h-3zM514 1113h3v3h-3zM514 1116h3v3h-3zM514 1119h3v3h-3zM514 1122h3v3h-3zM514 1125h3v3h-3zM514 1128h3v3h-3zM514 1131h3v3h-3zM514 1134h3v3h-3zM514 1137h3v3h-3zM514 1140h3v3h-3zM514 1143h3v3h-3zM514 1146h3v2h-3zM514 1148h3v3h-3zM514 1151h3v3h-3zM514 1154h3v3h-3zM514 1157h3v3h-3zM514 1160h3v3h-3zM517 1086h3v3h-3zM517 1089h3v3h-3zM517 1092h3v3h-3zM517 1095h3v3h-3zM517 1098h3v3h-3zM517 1101h3v3h-3zM517 1104h3v3h-3zM517 1107h3v3h-3zM517 1110h3v3h-3zM520 1098h3v3h-3zM520 1101h3v3h-3zM520 1104h3v3h-3zM520 1107h3v3h-3zM520 1110h3v3h-3zM520 1113h3v3h-3zM520 1116h3v3h-3zM520 1119h3v3h-3zM520 1122h3v3h-3zM523 1125h3v3h-3zM523 1128h3v3h-3zM523 1131h3v3h-3zM523 1134h3v3h-3zM523 1137h3v3h-3zM523 1140h3v3h-3zM523 1143h3v3h-3zM523 1146h3v2h-3zM526 1148h3v3h-3zM526 1151h3v3h-3zM526 1154h3v3h-3zM526 1157h3v3h-3zM526 1160h3v3h-3zM526 1163h3v3h-3zM526 1166h3v3h-3zM529 1169h3v3h-3zM529 1172h3v3h-3zM529 1175h3v3h-3zM529 1178h3v3h-3zM529 1181h3v3h-3zM529 1184h3v3h-3zM529 1187h3v3h-3zM529 1190h3v3h-3zM529 1193h3v3h-3zM529 1196h3v3h-3zM529 1199h3v3h-3zM529 1202h3v3h-3zM529 1205h3v3h-3zM529 1208h3v3h-3zM529 1211h3v3h-3zM532 1214h3v3h-3zM532 1217h3v3h-3zM532 1220h3v3h-3zM532 1223h3v3h-3zM532 1226h3v3h-3zM532 1229h3v3h-3zM532 1232h3v3h-3zM532 1235h3v3h-3zM532 1238h3v3h-3zM532 1241h3v3h-3zM532 1244h3v3h-3zM532 1247h3v3h-3zM535 1250h3v3h-3zM535 1253h3v3h-3zM535 1256h3v3h-3zM535 1259h3v3h-3zM535 1262h3v3h-3zM538 1265h3v3h-3zM541 1265h3v3h-3zM544 1265h3v3h-3zM547 1262h3v3h-3zM550 1262h3v3h-3zM553 1262h3v3h-3zM556 1262h3v3h-3zM559 1262h3v3h-3zM562 1265h3v3h-3zM565 1265h3v3h-3zM565 1268h3v3h-3zM568 1271h2v3h-2zM570 1271h3v3h-3zM573 1268h3v3h-3zM576 1268h3v3h-3zM579 1265h3v3h-3zM582 1265h3v3h-3zM585 1265h3v3h-3zM588 1265h3v3h-3zM591 1119h3v3h-3zM591 1122h3v3h-3zM591 1125h3v3h-3zM591 1128h3v3h-3zM591 1131h3v3h-3zM591 1134h3v3h-3zM591 1137h3v3h-3zM591 1140h3v3h-3zM591 1143h3v3h-3zM591 1146h3v2h-3zM591 1148h3v3h-3zM591 1151h3v3h-3zM591 1154h3v3h-3zM591 1157h3v3h-3zM591 1160h3v3h-3zM591 1163h3v3h-3zM591 1166h3v3h-3zM591 1169h3v3h-3zM591 1172h3v3h-3zM591 1175h3v3h-3zM591 1178h3v3h-3zM591 1181h3v3h-3zM591 1184h3v3h-3zM591 1187h3v3h-3zM591 1190h3v3h-3zM591 1193h3v3h-3zM591 1196h3v3h-3zM591 1199h3v3h-3zM591 1202h3v3h-3zM591 1205h3v3h-3zM591 1208h3v3h-3zM591 1211h3v3h-3zM591 1214h3v3h-3zM591 1217h3v3h-3zM591 1220h3v3h-3zM591 1223h3v3h-3zM591 1226h3v3h-3zM591 1229h3v3h-3zM591 1232h3v3h-3zM591 1235h3v3h-3zM591 1238h3v3h-3zM591 1241h3v3h-3zM591 1244h3v3h-3zM591 1247h3v3h-3zM591 1250h3v3h-3zM591 1253h3v3h-3zM591 1256h3v3h-3zM591 1259h3v3h-3zM591 1262h3v3h-3zM591 1265h3v3h-3zM594 993h3v3h-3zM594 996h3v3h-3zM594 999h3v3h-3zM594 1002h3v3h-3zM594 1005h3v3h-3zM594 1008h3v3h-3zM594 1011h3v3h-3zM594 1014h3v3h-3zM594 1017h3v3h-3zM594 1020h3v3h-3zM594 1023h3v3h-3zM594 1026h3v3h-3zM594 1029h3v3h-3zM594 1032h3v3h-3zM594 1035h3v3h-3zM594 1038h3v3h-3zM594 1041h3v3h-3zM594 1044h3v3h-3zM594 1047h3v3h-3zM594 1050h3v3h-3zM594 1053h3v3h-3zM594 1056h3v3h-3zM594 1059h3v3h-3zM594 1062h3v3h-3zM594 1065h3v3h-3zM594 1068h3v3h-3zM594 1071h3v3h-3zM594 1074h3v3h-3zM594 1077h3v3h-3zM594 1080h3v3h-3zM594 1083h3v3h-3zM594 1086h3v3h-3zM594 1089h3v3h-3zM594 1092h3v3h-3zM594 1095h3v3h-3zM594 1098h3v3h-3zM594 1101h3v3h-3zM594 1104h3v3h-3zM594 1107h3v3h-3zM594 1110h3v3h-3zM594 1113h3v3h-3zM594 1116h3v3h-3zM597 963h3v3h-3zM597 966h3v3h-3zM597 969h3v3h-3zM597 972h3v3h-3zM597 975h3v3h-3zM597 978h3v3h-3zM597 981h3v3h-3zM597 984h3v3h-3zM597 987h3v3h-3zM597 990h3v3h-3zM600 960h3v3h-3zM603 960h3v3h-3zM606 963h3v3h-3zM609 963h3v3h-3zM612 963h3v3h-3zM392 1304h3v3h-3zM389 1307h6v3h-6zM389 1310h9v3h-9zM386 1313h12v3h-12zM383 1316h18v3h-18zM383 1319h18v3h-18zM380 1322h24v3h-24zM380 1325h27v3h-27zM377 1328h30v3h-30zM395 1304h3v3h-3zM395 1307h6v3h-6zM392 1310h9v3h-9zM392 1313h12v3h-12zM389 1316h18v3h-18zM386 1319h21v3h-21zM386 1322h23v3h-23zM383 1325h26v3h-26zM383 1328h29v3h-29zM409 1304h3v3h-3zM407 1307h5v3h-5zM407 1310h8v3h-8zM404 1313h11v3h-11zM401 1316h17v3h-17zM401 1319h17v3h-17zM398 1322h23v3h-23zM398 1325h26v3h-26zM395 1328h29v3h-29zM427 1304h3v3h-3zM424 1307h6v3h-6zM424 1310h9v3h-9zM421 1313h12v3h-12zM418 1316h18v3h-18zM418 1319h21v3h-21zM415 1322h24v3h-24zM415 1325h27v3h-27zM412 1328h30v3h-30zM433 1304h3v3h-3zM430 1307h6v3h-6zM430 1310h9v3h-9zM427 1313h15v3h-15zM427 1316h15v3h-15zM424 1319h21v3h-21zM421 1322h24v3h-24zM421 1325h27v3h-27zM418 1328h33v3h-33zM439 1304h3v3h-3zM439 1307h3v3h-3zM436 1310h9v3h-9zM433 1313h15v3h-15zM433 1316h15v3h-15zM430 1319h21v3h-21zM430 1322h21v3h-21zM427 1325h27v3h-27zM424 1328h33v3h-33zM445 1304h3v3h-3zM442 1307h6v3h-6zM439 1310h12v3h-12zM439 1313h15v3h-15zM436 1316h18v3h-18zM436 1319h21v3h-21zM433 1322h24v3h-24zM430 1325h30v3h-30zM448 1301h3v3h-3zM448 1304h3v3h-3zM445 1307h9v3h-9zM442 1310h15v3h-15zM442 1313h15v3h-15zM439 1316h21v3h-21zM439 1319h21v3h-21zM436 1322h27v3h-27zM433 1325h33v3h-33zM454 1301h3v3h-3zM454 1304h6v3h-6zM451 1307h9v3h-9zM451 1310h12v3h-12zM448 1313h15v3h-15zM445 1316h21v3h-21zM445 1319h24v3h-24zM442 1322h27v3h-27zM442 1325h30v3h-30zM460 1301h3v3h-3zM460 1304h6v3h-6zM457 1307h9v3h-9zM457 1310h12v3h-12zM454 1313h18v3h-18zM454 1316h18v3h-18zM451 1319h24v3h-24zM448 1322h27v3h-27zM448 1325h30v3h-30zM466 957h3v3h-3zM463 960h9v3h-9zM463 963h9v3h-9zM460 966h15v3h-15zM460 969h15v3h-15zM457 972h21v3h-21zM454 975h27v3h-27zM454 978h27v3h-27zM451 981h33v3h-33zM472 963h3v3h-3zM469 966h6v3h-6zM466 969h12v3h-12zM466 972h12v3h-12zM463 975h18v3h-18zM463 978h21v3h-21zM460 981h24v3h-24zM457 984h30v3h-30zM457 987h30v3h-30zM475 960h3v3h-3zM475 963h6v3h-6zM472 966h12v3h-12zM472 969h12v3h-12zM469 972h18v3h-18zM469 975h18v3h-18zM466 978h24v3h-24zM463 981h30v3h-30zM463 984h30v3h-30zM481 1023h3v3h-3zM478 1026h6v3h-6zM478 1029h9v3h-9zM475 1032h15v3h-15zM472 1035h18v3h-18zM472 1038h21v3h-21zM469 1041h24v3h-24zM469 1044h27v3h-27zM484 1125h3v3h-3zM481 1128h6v3h-6zM481 1131h9v3h-9zM478 1134h15v3h-15zM478 1137h15v3h-15zM475 1140h21v3h-21zM472 1143h24v3h-24zM472 1146h27v2h-27zM469 1148h33v3h-33zM487 1196h3v3h-3zM484 1199h9v3h-9zM484 1202h9v3h-9zM481 1205h15v3h-15zM478 1208h18v3h-18zM478 1211h21v3h-21zM475 1214h27v3h-27zM475 1217h27v3h-27zM490 1247h3v3h-3zM490 1250h6v3h-6zM487 1253h9v3h-9zM487 1256h12v3h-12zM484 1259h18v3h-18zM481 1262h21v3h-21zM481 1265h24v3h-24zM478 1268h27v3h-27zM478 1271h30v3h-30zM493 1262h3v3h-3zM493 1265h6v3h-6zM490 1268h9v3h-9zM487 1271h15v3h-15zM487 1274h15v3h-15zM484 1277h21v3h-21zM484 1280h24v3h-24zM481 1283h27v3h-27zM478 1286h33v3h-33zM496 1080h3v3h-3zM493 1083h9v3h-9zM493 1086h9v3h-9zM490 1089h15v3h-15zM490 1092h15v3h-15zM487 1095h21v3h-21zM484 1098h27v3h-27zM484 1101h27v3h-27zM481 1104h33v3h-33zM502 960h3v3h-3zM499 963h6v3h-6zM496 966h12v3h-12zM496 969h12v3h-12zM493 972h18v3h-18zM493 975h18v3h-18zM490 978h24v3h-24zM487 981h30v3h-30zM487 984h30v3h-30zM505 1011h3v3h-3zM502 1014h9v3h-9zM502 1017h9v3h-9zM499 1020h15v3h-15zM496 1023h18v3h-18zM496 1026h21v3h-21zM493 1029h27v3h-27zM493 1032h27v3h-27zM508 1107h3v3h-3zM505 1110h9v3h-9zM505 1113h12v3h-12zM502 1116h15v3h-15zM502 1119h18v3h-18zM499 1122h21v3h-21zM496 1125h27v3h-27zM496 1128h30v3h-30zM511 1163h3v3h-3zM511 1166h6v3h-6zM508 1169h9v3h-9zM505 1172h15v3h-15zM505 1175h18v3h-18zM502 1178h21v3h-21zM502 1181h24v3h-24zM499 1184h27v3h-27zM517 1074h3v3h-3zM517 1077h6v3h-6zM514 1080h9v3h-9zM511 1083h15v3h-15zM511 1086h15v3h-15zM508 1089h21v3h-21zM508 1092h24v3h-24zM505 1095h27v3h-27zM502 1098h33v3h-33zM520 1107h3v3h-3zM517 1110h9v3h-9zM517 1113h12v3h-12zM514 1116h15v3h-15zM514 1119h18v3h-18zM511 1122h21v3h-21zM511 1125h24v3h-24zM508 1128h30v3h-30zM529 1166h3v3h-3zM526 1169h6v3h-6zM526 1172h9v3h-9zM523 1175h15v3h-15zM523 1178h15v3h-15zM520 1181h21v3h-21zM517 1184h24v3h-24zM517 1187h27v3h-27zM514 1190h33v3h-33zM532 1232h3v3h-3zM532 1235h6v3h-6zM529 1238h9v3h-9zM526 1241h15v3h-15zM526 1244h15v3h-15zM523 1247h21v3h-21zM523 1250h24v3h-24zM520 1253h27v3h-27zM517 1256h33v3h-33zM538 1253h3v3h-3zM535 1256h6v3h-6zM535 1259h9v3h-9zM532 1262h12v3h-12zM529 1265h18v3h-18zM529 1268h18v3h-18zM526 1271h24v3h-24zM526 1274h27v3h-27zM523 1277h30v3h-30zM544 1253h3v3h-3zM541 1256h6v3h-6zM541 1259h9v3h-9zM538 1262h12v3h-12zM538 1265h15v3h-15zM535 1268h21v3h-21zM532 1271h24v3h-24zM532 1274h27v3h-27zM529 1277h30v3h-30zM550 1250h3v3h-3zM550 1253h6v3h-6zM547 1256h9v3h-9zM544 1259h15v3h-15zM544 1262h15v3h-15zM541 1265h21v3h-21zM541 1268h24v3h-24zM538 1271h27v3h-27zM535 1274h33v3h-33zM556 1250h3v3h-3zM556 1253h6v3h-6zM553 1256h9v3h-9zM550 1259h15v3h-15zM550 1262h15v3h-15zM547 1265h21v3h-21zM547 1268h23v3h-23zM544 1271h26v3h-26zM541 1274h32v3h-32zM565 1253h3v3h-3zM562 1256h6v3h-6zM562 1259h8v3h-8zM559 1262h11v3h-11zM556 1265h17v3h-17zM556 1268h17v3h-17zM553 1271h23v3h-23zM553 1274h26v3h-26zM550 1277h29v3h-29zM570 1259h3v3h-3zM568 1262h5v3h-5zM568 1265h5v3h-5zM565 1268h11v3h-11zM562 1271h17v3h-17zM562 1274h17v3h-17zM559 1277h23v3h-23zM559 1280h23v3h-23zM556 1283h29v3h-29zM570 1259h6v3h-6zM570 1262h6v3h-6zM568 1265h11v3h-11zM568 1268h11v3h-11zM565 1271h17v3h-17zM562 1274h23v3h-23zM562 1277h23v3h-23zM559 1280h29v3h-29zM579 1253h3v3h-3zM579 1256h6v3h-6zM576 1259h9v3h-9zM573 1262h15v3h-15zM573 1265h15v3h-15zM570 1268h21v3h-21zM570 1271h24v3h-24zM568 1274h26v3h-26zM565 1277h32v3h-32zM588 1253h3v3h-3zM585 1256h6v3h-6zM582 1259h12v3h-12zM582 1262h12v3h-12zM579 1265h18v3h-18zM579 1268h18v3h-18zM576 1271h24v3h-24zM573 1274h30v3h-30zM573 1277h30v3h-30zM591 1253h3v3h-3zM588 1256h6v3h-6zM588 1259h6v3h-6zM585 1262h12v3h-12zM582 1265h18v3h-18zM582 1268h18v3h-18zM579 1271h24v3h-24zM579 1274h24v3h-24zM576 1277h30v3h-30zM594 1089h3v3h-3zM591 1092h6v3h-6zM588 1095h12v3h-12zM588 1098h12v3h-12zM585 1101h18v3h-18zM585 1104h21v3h-21zM582 1107h24v3h-24zM579 1110h30v3h-30zM597 955h3v2h-3zM594 957h6v3h-6zM594 960h9v3h-9zM591 963h15v3h-15zM588 966h18v3h-18zM588 969h21v3h-21zM585 972h24v3h-24zM585 975h27v3h-27zM600 949h3v3h-3zM597 952h9v3h-9zM597 955h9v2h-9zM594 957h15v3h-15zM591 960h18v3h-18zM591 963h21v3h-21zM588 966h27v3h-27zM588 969h27v3h-27zM612 955h3v2h-3zM612 957h6v3h-6zM609 960h12v3h-12zM609 963h12v3h-12zM606 966h18v3h-18zM603 969h21v3h-21zM603 972h24v3h-24zM600 975h30v3h-30zM639 928h3v3h-3zM636 931h6v3h-6zM636 934h9v3h-9zM633 937h15v3h-15zM633 940h15v3h-15zM630 943h21v3h-21zM627 946h24v3h-24zM627 949h27v3h-27zM624 952h33v3h-33zM663 922h3v3h-3zM660 925h6v3h-6zM660 928h9v3h-9zM657 931h15v3h-15zM657 934h15v3h-15zM654 937h21v3h-21zM651 940h24v3h-24zM651 943h27v3h-27zM648 946h33v3h-33zM687 916h3v3h-3zM684 919h6v3h-6zM684 922h9v3h-9zM681 925h15v3h-15zM681 928h15v3h-15zM678 931h21v3h-21zM675 934h24v3h-24zM675 937h27v3h-27zM672 940h33v3h-33zM711 919h3v3h-3zM711 922h6v3h-6zM708 925h9v3h-9zM705 928h15v3h-15zM705 931h15v3h-15zM702 934h21v3h-21zM702 937h24v3h-24zM699 940h27v3h-27zM696 943h33v3h-33zM734 919h3v3h-3zM732 922h5v3h-5zM732 925h8v3h-8zM729 928h14v3h-14zM729 931h14v3h-14zM726 934h20v3h-20zM723 937h23v3h-23zM723 940h26v3h-26zM720 943h32v3h-32zM758 904h3v3h-3zM758 907h6v3h-6zM755 910h9v3h-9zM752 913h15v3h-15zM752 916h15v3h-15zM749 919h21v3h-21zM749 922h24v3h-24zM746 925h27v3h-27zM743 928h33v3h-33zM782 907h3v3h-3zM782 910h6v3h-6zM779 913h9v3h-9zM779 916h12v3h-12zM776 919h18v3h-18zM773 922h21v3h-21zM773 925h24v3h-24zM770 928h27v3h-27zM770 931h30v3h-30zM806 916h3v3h-3zM806 919h6v3h-6zM803 922h12v3h-12zM803 925h12v3h-12zM800 928h18v3h-18zM800 931h18v3h-18zM797 934h24v3h-24zM794 937h30v3h-30zM794 940h30v3h-30zM833 910h3v3h-3zM830 913h6v3h-6zM827 916h12v3h-12zM827 919h12v3h-12zM824 922h18v3h-18zM824 925h18v3h-18zM821 928h24v3h-24zM818 931h30v3h-30zM818 934h30v3h-30zM857 904h3v3h-3zM854 907h6v3h-6zM854 910h9v3h-9zM851 913h12v3h-12zM848 916h18v3h-18zM848 919h21v3h-21zM845 922h24v3h-24zM845 925h27v3h-27zM842 928h30v3h-30zM881 904h3v3h-3zM878 907h6v3h-6zM878 910h9v3h-9zM875 913h15v3h-15zM872 916h18v3h-18zM872 919h21v3h-21zM869 922h24v3h-24zM869 925h27v3h-27zM866 928h32v3h-32zM904 907h3v3h-3zM901 910h9v3h-9zM901 913h9v3h-9zM898 916h15v3h-15zM898 919h15v3h-15zM896 922h20v3h-20zM893 925h26v3h-26zM893 928h26v3h-26zM890 931h32v3h-32zM928 901h3v3h-3zM925 904h6v3h-6zM925 907h9v3h-9zM922 910h15v3h-15zM922 913h15v3h-15zM919 916h21v3h-21zM916 919h24v3h-24zM916 922h27v3h-27zM913 925h33v3h-33zM952 889h3v3h-3zM949 892h9v3h-9zM949 895h9v3h-9zM946 898h15v3h-15zM946 901h15v3h-15zM943 904h21v3h-21zM940 907h27v3h-27zM940 910h27v3h-27zM937 913h33v3h-33zM976 907h3v3h-3zM976 910h6v3h-6zM973 913h9v3h-9zM970 916h15v3h-15zM970 919h15v3h-15zM967 922h21v3h-21zM967 925h24v3h-24zM964 928h27v3h-27zM961 931h33v3h-33zM1000 904h3v3h-3zM1000 907h6v3h-6zM997 910h9v3h-9zM997 913h12v3h-12zM994 916h18v3h-18zM991 919h21v3h-21zM991 922h24v3h-24zM988 925h27v3h-27zM988 928h30v3h-30zM1024 889h6v3h-6zM1024 892h6v3h-6zM1021 895h12v3h-12zM1021 898h12v3h-12zM1018 901h18v3h-18zM1015 904h21v3h-21zM1015 907h24v3h-24zM1012 910h30v3h-30zM1048 907h3v3h-3zM1048 910h6v3h-6zM1045 913h12v3h-12zM1045 916h12v3h-12zM1042 919h18v3h-18zM1042 922h18v3h-18zM1039 925h23v3h-23zM1036 928h29v3h-29zM1036 931h29v3h-29zM1074 913h3v3h-3zM1071 916h6v3h-6zM1071 919h9v3h-9zM1068 922h12v3h-12zM1065 925h18v3h-18zM1065 928h21v3h-21zM1062 931h24v3h-24zM1062 934h27v3h-27zM1060 937h29v3h-29zM1098 934h3v3h-3zM1095 937h6v3h-6zM1095 940h9v3h-9zM1092 943h12v3h-12zM1089 946h18v3h-18zM1089 949h21v3h-21zM1086 952h24v3h-24zM1086 955h27v2h-27zM1083 957h30v3h-30zM1110 937h3v3h-3zM1107 940h9v3h-9zM1107 943h9v3h-9zM1104 946h15v3h-15zM1104 949h15v3h-15zM1101 952h21v3h-21zM1098 955h24v2h-24zM1098 957h27v3h-27zM1095 960h33v3h-33zM1125 946h3v3h-3zM1122 949h6v3h-6zM1122 952h9v3h-9zM1119 955h15v2h-15zM1119 957h15v3h-15zM1116 960h21v3h-21zM1113 963h24v3h-24zM1113 966h27v3h-27zM1110 969h33v3h-33zM1149 969h3v3h-3zM1146 972h6v3h-6zM1146 975h9v3h-9zM1143 978h15v3h-15zM1143 981h15v3h-15zM1140 984h21v3h-21zM1137 987h24v3h-24zM1137 990h27v3h-27zM1134 993h33v3h-33zM1173 984h3v3h-3zM1170 987h9v3h-9zM1170 990h9v3h-9zM1167 993h15v3h-15zM1167 996h18v3h-18zM1164 999h21v3h-21zM1161 1002h27v3h-27zM1161 1005h27v3h-27zM1197 1002h3v3h-3zM1197 1005h6v3h-6zM1194 1008h9v3h-9zM1191 1011h15v3h-15zM1191 1014h15v3h-15zM1188 1017h21v3h-21zM1188 1020h24v3h-24zM1185 1023h27v3h-27zM1182 1026h33v3h-33zM1221 1032h5v3h-5zM1221 1035h5v3h-5zM1218 1038h11v3h-11zM1218 1041h11v3h-11zM1215 1044h17v3h-17zM1212 1047h23v3h-23zM1212 1050h23v3h-23zM1209 1053h29v3h-29zM1244 1047h3v3h-3zM1244 1050h6v3h-6zM1241 1053h12v3h-12zM1241 1056h12v3h-12zM1238 1059h18v3h-18zM1238 1062h18v3h-18zM1235 1065h24v3h-24zM1232 1068h30v3h-30zM1232 1071h30v3h-30zM1271 1071h3v3h-3zM1268 1074h6v3h-6zM1265 1077h12v3h-12zM1265 1080h12v3h-12zM1262 1083h18v3h-18zM1262 1086h21v3h-21zM1259 1089h24v3h-24zM1256 1092h30v3h-30zM1256 1095h30v3h-30zM1292 1089h3v3h-3zM1292 1092h6v3h-6zM1289 1095h12v3h-12zM1289 1098h12v3h-12zM1286 1101h18v3h-18zM1286 1104h18v3h-18zM1283 1107h24v3h-24zM1280 1110h30v3h-30zM1280 1113h30v3h-30zM1319 1101h3v3h-3zM1316 1104h6v3h-6zM1316 1107h9v3h-9zM1313 1110h15v3h-15zM1313 1113h15v3h-15zM1310 1116h21v3h-21zM1307 1119h24v3h-24zM1307 1122h27v3h-27zM1304 1125h33v3h-33zM1343 1125h3v3h-3zM1340 1128h6v3h-6zM1340 1131h9v3h-9zM1337 1134h15v3h-15zM1337 1137h15v3h-15zM1334 1140h21v3h-21zM1331 1143h24v3h-24zM1331 1146h27v2h-27zM1328 1148h33v3h-33zM1367 1148h3v3h-3zM1364 1151h6v3h-6zM1364 1154h9v3h-9zM1361 1157h15v3h-15zM1361 1160h15v3h-15zM1358 1163h21v3h-21zM1355 1166h24v3h-24zM1355 1169h27v3h-27zM1352 1172h33v3h-33zM1390 1157h3v3h-3zM1388 1160h8v3h-8zM1388 1163h8v3h-8zM1385 1166h14v3h-14zM1385 1169h14v3h-14zM1382 1172h20v3h-20zM1379 1175h23v3h-23zM1379 1178h26v3h-26zM1376 1181h32v3h-32zM1414 1178h3v3h-3zM1414 1181h6v3h-6zM1411 1184h9v3h-9zM1408 1187h15v3h-15zM1408 1190h15v3h-15zM1405 1193h21v3h-21zM1405 1196h24v3h-24zM1402 1199h27v3h-27zM1399 1202h33v3h-33zM1438 1199h3v3h-3zM1438 1202h6v3h-6zM1435 1205h9v3h-9zM1432 1208h15v3h-15zM1432 1211h18v3h-18zM1429 1214h21v3h-21zM1429 1217h24v3h-24zM1426 1220h27v3h-27zM1423 1223h33v3h-33zM1462 1229h3v3h-3zM1462 1232h6v3h-6zM1459 1235h12v3h-12zM1459 1238h12v3h-12zM1456 1241h18v3h-18zM1453 1244h21v3h-21zM1453 1247h24v3h-24zM1450 1250h30v3h-30zM1450 1253h30v3h-30zM1486 1241h3v3h-3zM1486 1244h6v3h-6zM1483 1247h9v3h-9zM1483 1250h12v3h-12zM1480 1253h18v3h-18zM1480 1256h18v3h-18zM1477 1259h24v3h-24zM1474 1262h27v3h-27zM1474 1265h30v3h-30zM1513 1241h3v3h-3zM1510 1244h6v3h-6zM1510 1247h9v3h-9zM1507 1250h12v3h-12zM1504 1253h18v3h-18zM1504 1256h18v3h-18zM1501 1259h24v3h-24zM1501 1262h27v3h-27zM1498 1265h30v3h-30zM1537 1241h3v3h-3zM1534 1244h6v3h-6zM1534 1247h9v3h-9zM1531 1250h12v3h-12zM1531 1253h15v3h-15zM1528 1256h21v3h-21zM1525 1259h24v3h-24zM1525 1262h27v3h-27zM1522 1265h30v3h-30zM1560 1241h3v3h-3zM1557 1244h6v3h-6zM1557 1247h9v3h-9zM1554 1250h12v3h-12zM1554 1253h15v3h-15zM1552 1256h20v3h-20zM1549 1259h23v3h-23zM1549 1262h26v3h-26zM1546 1265h29v3h-29zM1572 1241h3v3h-3zM1569 1244h6v3h-6zM1569 1247h9v3h-9zM1566 1250h12v3h-12zM1566 1253h15v3h-15zM1563 1256h21v3h-21zM1560 1259h24v3h-24zM1560 1262h27v3h-27zM1557 1265h30v3h-30zM1584 1241h3v3h-3zM1584 1244h3v3h-3zM1581 1247h9v3h-9zM1578 1250h15v3h-15zM1578 1253h15v3h-15zM1575 1256h21v3h-21zM1575 1259h21v3h-21zM1572 1262h27v3h-27zM1569 1265h33v3h-33zM1608 1241h3v3h-3zM1608 1244h6v3h-6zM1605 1247h9v3h-9zM1602 1250h15v3h-15zM1602 1253h15v3h-15zM1599 1256h21v3h-21zM1599 1259h24v3h-24zM1596 1262h27v3h-27zM1593 1265h33v3h-33zM1632 1241h3v3h-3zM1629 1244h6v3h-6zM1629 1247h9v3h-9zM1626 1250h15v3h-15zM1626 1253h15v3h-15zM1623 1256h21v3h-21zM1620 1259h24v3h-24zM1620 1262h27v3h-27zM1617 1265h33v3h-33zM1656 1241h3v3h-3zM1656 1244h3v3h-3zM1653 1247h9v3h-9zM1650 1250h15v3h-15zM1650 1253h15v3h-15zM1647 1256h21v3h-21zM1647 1259h21v3h-21zM1644 1262h27v3h-27zM1641 1265h33v3h-33zM1680 1241h3v3h-3zM1680 1244h6v3h-6zM1677 1247h9v3h-9zM1674 1250h15v3h-15zM1674 1253h15v3h-15zM1671 1256h21v3h-21zM1671 1259h24v3h-24zM1668 1262h27v3h-27zM1665 1265h33v3h-33zM1704 1241h3v3h-3zM1704 1244h6v3h-6zM1701 1247h9v3h-9zM1701 1250h12v3h-12zM1698 1253h15v3h-15zM1695 1256h21v3h-21zM1695 1259h23v3h-23zM1692 1262h26v3h-26zM1692 1265h29v3h-29zM1727 1241h3v3h-3zM1727 1244h6v3h-6zM1724 1247h9v3h-9zM1721 1250h15v3h-15zM1721 1253h15v3h-15zM1718 1256h21v3h-21zM1718 1259h21v3h-21zM1716 1262h26v3h-26zM1713 1265h32v3h-32zM1751 1241h3v3h-3zM1751 1244h6v3h-6zM1748 1247h12v3h-12zM1748 1250h12v3h-12zM1745 1253h18v3h-18zM1745 1256h18v3h-18zM1742 1259h24v3h-24zM1739 1262h30v3h-30zM1739 1265h30v3h-30zM1778 1241h3v3h-3zM1775 1244h6v3h-6zM1775 1247h9v3h-9zM1772 1250h12v3h-12zM1769 1253h18v3h-18zM1769 1256h21v3h-21zM1766 1259h24v3h-24zM1766 1262h27v3h-27zM1763 1265h30v3h-30zM1799 1241h3v3h-3zM1796 1244h6v3h-6zM1796 1247h9v3h-9zM1793 1250h12v3h-12zM1793 1253h15v3h-15zM1790 1256h21v3h-21zM1787 1259h24v3h-24zM1787 1262h27v3h-27zM1784 1265h30v3h-30zM1820 1241h3v3h-3zM1817 1244h6v3h-6zM1817 1247h9v3h-9zM1814 1250h12v3h-12zM1814 1253h15v3h-15zM1811 1256h21v3h-21zM1808 1259h24v3h-24zM1808 1262h27v3h-27zM1805 1265h30v3h-30zM1838 1241h3v3h-3zM1838 1244h6v3h-6zM1835 1247h12v3h-12zM1835 1250h12v3h-12zM1832 1253h18v3h-18zM1832 1256h18v3h-18zM1829 1259h24v3h-24zM1826 1262h30v3h-30zM1826 1265h30v3h-30zM1862 1241h3v3h-3zM1859 1244h6v3h-6zM1856 1247h12v3h-12zM1856 1250h12v3h-12zM1853 1253h18v3h-18zM1853 1256h18v3h-18zM1850 1259h24v3h-24zM1847 1262h30v3h-30zM1847 1265h30v3h-30zM1880 1241h2v3h-2zM1880 1244h2v3h-2zM1877 1247h8v3h-8zM1874 1250h14v3h-14zM1874 1253h14v3h-14zM1871 1256h20v3h-20zM1871 1259h20v3h-20zM1868 1262h26v3h-26zM1865 1265h32v3h-32zM1900 1241h3v3h-3zM1900 1244h3v3h-3zM1897 1247h9v3h-9zM1894 1250h15v3h-15zM1894 1253h15v3h-15zM1891 1256h21v3h-21zM1891 1259h21v3h-21zM1888 1262h27v3h-27zM1885 1265h33v3h-33zM1921 1241h3v3h-3zM1921 1244h3v3h-3zM1918 1247h9v3h-9zM1915 1250h15v3h-15zM1915 1253h15v3h-15zM1912 1256h21v3h-21zM1912 1259h21v3h-21zM1909 1262h27v3h-27zM1906 1265h33v3h-33zM1942 1241h3v3h-3zM1942 1244h3v3h-3zM1939 1247h9v3h-9zM1936 1250h15v3h-15zM1936 1253h15v3h-15zM1933 1256h21v3h-21zM1933 1259h21v3h-21zM1930 1262h27v3h-27zM1927 1265h33v3h-33zM1963 1241h3v3h-3zM1963 1244h3v3h-3zM1960 1247h9v3h-9zM1957 1250h15v3h-15zM1957 1253h15v3h-15zM1954 1256h21v3h-21zM1954 1259h21v3h-21zM1951 1262h27v3h-27zM1948 1265h33v3h-33zM1984 1241h3v3h-3zM1984 1244h3v3h-3zM1981 1247h9v3h-9zM1978 1250h15v3h-15zM1978 1253h15v3h-15zM1975 1256h21v3h-21zM1975 1259h21v3h-21zM1972 1262h27v3h-27zM1969 1265h33v3h-33zM2005 1241h3v3h-3zM2005 1244h3v3h-3zM2002 1247h9v3h-9zM1999 1250h15v3h-15zM1999 1253h15v3h-15zM1996 1256h21v3h-21zM1996 1259h21v3h-21zM1993 1262h27v3h-27zM1990 1265h33v3h-33zM2026 1241h3v3h-3zM2026 1244h3v3h-3zM2023 1247h9v3h-9zM2020 1250h15v3h-15zM2020 1253h15v3h-15zM2017 1256h21v3h-21zM2017 1259h21v3h-21zM2014 1262h27v3h-27zM2011 1265h32v3h-32zM2046 1241h3v3h-3zM2043 1244h6v3h-6zM2043 1247h9v3h-9zM2041 1250h14v3h-14zM2041 1253h14v3h-14zM2038 1256h20v3h-20zM2038 1259h20v3h-20zM2035 1262h26v3h-26zM2032 1265h32v3h-32zM2067 1241h3v3h-3zM2067 1244h3v3h-3zM2064 1247h9v3h-9zM2061 1250h15v3h-15zM2061 1253h15v3h-15zM2058 1256h21v3h-21zM2058 1259h21v3h-21zM2055 1262h27v3h-27zM2052 1265h33v3h-33zM2088 1241h3v3h-3zM2085 1244h6v3h-6zM2085 1247h9v3h-9zM2082 1250h15v3h-15zM2082 1253h15v3h-15zM2079 1256h21v3h-21zM2076 1259h24v3h-24zM2076 1262h27v3h-27zM2073 1265h33v3h-33zM2109 1241h3v3h-3zM2106 1244h6v3h-6zM2106 1247h9v3h-9zM2103 1250h15v3h-15zM2103 1253h15v3h-15zM2100 1256h21v3h-21zM2097 1259h24v3h-24zM2097 1262h27v3h-27zM2094 1265h33v3h-33z"/>
<path fill="#ff0000" d="M386 1289h21v21h-21zM401 1286h23v21h-23zM427 1292h21v21h-21zM451 1283h21v21h-21zM475 1292h21v21h-21zM499 1286h21v24h-21zM523 1280h21v21h-21zM547 1289h21v21h-21zM562 1295h20v21h-20zM570 1283h24v21h-24zM597 1283h21v21h-21zM621 1301h21v21h-21zM645 1283h21v21h-21zM669 1286h21v21h-21zM693 1292h21v21h-21zM717 1283h20v21h-20zM740 1292h21v21h-21zM764 1286h21v21h-21zM788 1286h21v21h-21zM812 1286h24v21h-24zM836 1286h24v21h-24zM863 1289h21v21h-21zM887 1289h20v21h-20zM910 1289h21v21h-21zM934 1286h21v21h-21zM958 1283h21v21h-21zM982 1289h21v21h-21zM1006 1289h21v21h-21zM1030 1286h24v21h-24zM1054 1289h23v21h-23zM1083 1289h21v24h-21zM1107 1283h21v24h-21zM1131 1283h21v24h-21zM1155 1301h21v21h-21zM1179 1298h21v21h-21zM1203 1292h21v21h-21zM1226 1292h21v21h-21zM1250 1295h24v21h-24zM1274 1295h24v21h-24zM1301 1283h21v21h-21zM1325 1292h21v21h-21zM1349 1283h21v21h-21zM1373 1298h20v21h-20zM1396 1295h21v24h-21zM1420 1283h21v21h-21zM1444 1295h21v24h-21zM1468 1295h24v21h-24zM1492 1286h24v24h-24zM1519 1280h21v21h-21zM1543 1286h20v24h-20zM1566 1283h21v21h-21zM1590 1274h21v24h-21zM1614 1277h21v21h-21zM1638 1277h21v21h-21zM1662 1283h21v21h-21zM1686 1292h21v21h-21zM1710 1280h20v21h-20zM1733 1283h24v21h-24zM1754 1292h24v21h-24zM1775 1283h21v21h-21zM1799 1292h24v21h-24zM1826 1280h21v21h-21zM1850 1283h21v21h-21zM1871 1292h20v21h-20zM1891 1283h21v21h-21zM1915 1292h21v21h-21zM1939 1280h21v21h-21zM1963 1283h21v21h-21zM1984 1292h21v21h-21zM2005 1283h21v21h-21zM2029 1292h20v21h-20zM2052 1280h21v21h-21zM2076 1283h21v21h-21zM2097 1292h21v21h-21z"/>
</g>
<g stroke="#000080" stroke-width="3.3">
<line x1="601.7" y1="322" x2="601.7" y2="1416.5"/>
<line x1="1571" y1="325.2" x2="1571" y2="1422.5"/>
</g>
<path fill="#000" d="M591.1 426h980v3.1h-980zM597.4 423.2h11.9v8.7h-11.9zM609.3 420.2h9v11.7h-9zM618.3 420.2h3v14.6h-3zM621.3 417.2h5.6v17.7h-5.6zM1536.7 417.3h8.9v17.75h-8.9zM1545.6 420.3h11.9v11.6h-11.9zM1557.5 423.3h5.9v8.6h-5.9zM1563.4 423.3h11.9v5.8h-11.9zM1575 423.3h548.9v2.8h-548.9zM1575.3 420.3h12.2v8.8h-12.2zM1587.5 417.6h11.8v14.3h-11.8zM1599.3 414.3h5.9v20.75h-5.9zM2085.3 414.3h5.7v20.5h-5.7zM2091 414.3h3v17.6h-3zM2094 417.2h8.9v14.7h-8.9zM2102.9 417.2h2.9v11.7h-2.9zM2105.8 420.4h9.3v8.5h-9.3zM602.9 1035h436v3h-436zM606.2 1032h12v8.9h-12zM618.2 1029.1h11.9v14.8h-11.9zM630.1 1026.1h5.9v20.8h-5.9zM1003 1026.1h5.9v20.8h-5.9zM1008.9 1029.1h11.9v14.8h-11.9zM1020.8 1032h9v8.9h-9zM490.1 885.9h8.7v3h-8.7zM508 885.9h5.8v3h-5.8zM472.25 888.9h26.55v3.1h-26.55zM508 888.9h17.8v3.1h-17.8zM463.1 892h41.8v2.8h-41.8zM508 892h29.8v2.8h-29.8zM469.2 894.8h29.6v3h-29.6zM504.9 894.8h38.8v3h-38.8zM481.2 897.8h17.6v2.9h-17.6zM504.9 897.8h24v2.9h-24zM493.2 900.7h5.6v3h-5.6zM504.9 900.7h8.9v3h-8.9z"/>
<path fill="#2b2b2b" d="M1027.2 781.9h5.8v50h-5.8z"/>
<path fill="#1e1e1e" d="M1018 826.3h20.7v8.2h-20.7zM1031 834.5h7.7v6.2h-7.7zM1021 829h14.7v17.8h-14.7zM1027 846.8h8.7v5.7h-8.7zM1024.1 838h8.9v20.7h-8.9z"/>
<path fill="#060606" d="M1027.2 850.2h5.8v14.6h-5.8zM1027.2 838h5.8v12.2h-5.8z"/>
<g stroke="#000080" stroke-width="3.3">
<line x1="461.5" y1="841.3" x2="461.5" y2="1411"/>
<line x1="530.2" y1="841.3" x2="530.2" y2="1411"/>
<line x1="1031.2" y1="868" x2="1031.2" y2="1312.3"/>
</g>
<g stroke="#000" stroke-width="6" fill="none" stroke-linecap="butt">
<rect x="391.65" y="74.75" width="1726.4" height="1390.15"/>
<line x1="391.65" y1="214.4" x2="418.5" y2="214.4"/>
<line x1="391.65" y1="351.7" x2="418.5" y2="351.7"/>
<line x1="391.65" y1="491.9" x2="418.5" y2="491.9"/>
<line x1="391.65" y1="632" x2="418.5" y2="632"/>
<line x1="391.65" y1="769.5" x2="418.5" y2="769.5"/>
<line x1="391.65" y1="909.8" x2="418.5" y2="909.8"/>
<line x1="391.65" y1="1050" x2="418.5" y2="1050"/>
<line x1="391.65" y1="1187.1" x2="418.5" y2="1187.1"/>
<line x1="391.65" y1="1327.3" x2="418.5" y2="1327.3"/>
<line x1="2091.5" y1="247.1" x2="2118.05" y2="247.1"/>
<line x1="2091.5" y1="596.3" x2="2118.05" y2="596.3"/>
<line x1="2091.5" y1="769.3" x2="2118.05" y2="769.3"/>
<line x1="2091.5" y1="945.4" x2="2118.05" y2="945.4"/>
<line x1="2091.5" y1="1118.6" x2="2118.05" y2="1118.6"/>
<line x1="2091.5" y1="1291.7" x2="2118.05" y2="1291.7"/>
<line x1="737.4" y1="1437.9" x2="737.4" y2="1464.9"/>
<line x1="1083.5" y1="1437.9" x2="1083.5" y2="1464.9"/>
<line x1="1426.5" y1="1437.9" x2="1426.5" y2="1464.9"/>
<line x1="1772.05" y1="1437.9" x2="1772.05" y2="1464.9"/>
</g>
<rect x="407.8" y="90.7" width="963.6" height="95.4" fill="#fff" stroke="#000" stroke-width="2.8"/>
<g shape-rendering="crispEdges">
<path fill="#008000" d="M487 113h3v3h-3zM484 116h9v3h-9zM484 119h9v3h-9zM481 122h15v3h-15zM478 125h18v3h-18zM478 128h21v3h-21zM475 131h27v3h-27zM475 134h27v3h-27zM472 137h33v3h-33z"/>
<rect x="708" y="118.9" width="20.8" height="21" fill="#000080"/>
<rect x="872" y="127.8" width="163.3" height="2.8" fill="#870b87"/>
<path fill="#870b87" d="M952 113h3v3h-3zM952 116h3v3h-3zM949 119h9v3h-9zM949 122h12v3h-12zM946 125h15v3h-15zM943 128h21v3h-21zM943 131h21v3h-21zM940 134h27v3h-27zM940 137h27v3h-27z"/>
<rect x="1190.8" y="118.9" width="17.8" height="21" fill="#ff0000"/>
</g>
</g>
<g filter="url(#soft)">
<g font-size="71.5">
<text x="362.2" y="237.9" text-anchor="end" letter-spacing="0.6">900</text>
<text x="362.2" y="375.2" text-anchor="end" letter-spacing="0.6">800</text>
<text x="362.2" y="515.4" text-anchor="end" letter-spacing="0.6">700</text>
<text x="362.2" y="655.5" text-anchor="end" letter-spacing="0.6">600</text>
<text x="362.2" y="793" text-anchor="end" letter-spacing="0.6">500</text>
<text x="362.2" y="933.3" text-anchor="end" letter-spacing="0.6">400</text>
<text x="362.2" y="1073.5" text-anchor="end" letter-spacing="0.6">300</text>
<text x="362.2" y="1210.6" text-anchor="end" letter-spacing="0.6">200</text>
<text x="362.2" y="1350.8" text-anchor="end" letter-spacing="0.6">100</text>
<text x="362.2" y="98.1" text-anchor="end" letter-spacing="0.6">1000</text>
<text x="362.2" y="1488.6" text-anchor="end" letter-spacing="0.6">0</text>
<text x="2146.3" y="270.6" letter-spacing="1.3">305</text>
<text x="2146.3" y="619.8" letter-spacing="1.3">295</text>
<text x="2146.3" y="792.8" letter-spacing="1.3">290</text>
<text x="2146.3" y="968.9" letter-spacing="1.3">285</text>
<text x="2146.3" y="1142.1" letter-spacing="1.3">280</text>
<text x="2146.3" y="1315.2" letter-spacing="1.3">275</text>
<text x="2146.3" y="98" letter-spacing="1.3">310</text>
<text x="2146.3" y="444.7" letter-spacing="1.3">300</text>
<text x="2146.3" y="1488.5" letter-spacing="1.3">270</text>
<text x="392.25" y="1551.2" text-anchor="middle" letter-spacing="1.3">0</text>
<text x="737.85" y="1551.2" text-anchor="middle" letter-spacing="1.3">200</text>
<text x="1083.65" y="1551.2" text-anchor="middle" letter-spacing="1.3">400</text>
<text x="1427.65" y="1551.2" text-anchor="middle" letter-spacing="1.3">600</text>
<text x="1773.25" y="1551.2" text-anchor="middle" letter-spacing="1.3">800</text>
<text x="2117.25" y="1551.2" text-anchor="middle" letter-spacing="1.3">1000</text>
<text x="1195.6" y="1673.6" textLength="116.5" lengthAdjust="spacing">t [s]</text>
<text x="110.2" y="750.9" text-anchor="middle">P</text>
<text x="111.3" y="837.7" text-anchor="middle">[kPa]</text>
<text x="2356.6" y="750.9" text-anchor="middle">T</text>
<text x="2358.4" y="837.7" text-anchor="middle">[K]</text>
<text x="566.5" y="154.5">P</text>
<text x="605.7" y="172.3" font-size="48">T</text>
<text x="796" y="154.5">T</text>
<text x="840.8" y="172.3" font-size="48">T</text>
<text x="1049.8" y="154.5">P</text>
<text x="1091.5" y="172.3" font-size="48">S</text>
<text x="1279.4" y="154.5">T</text>
<text x="1324.5" y="172.3" font-size="48">S</text>
</g>
<text x="747.5" y="393" font-size="71.5" textLength="706" lengthAdjust="spacing">Hydrate formation stage</text>
<text x="1657.4" y="321.2" font-size="71.5" textLength="252" lengthAdjust="spacing">Pressure</text>
<text x="1657.5" y="402" font-size="71.5" textLength="414" lengthAdjust="spacing">measurements</text>
<text x="419.5" y="762.9" font-size="57.5" textLength="146" lengthAdjust="spacing">Water</text>
<text x="418" y="834.1" font-size="57.5" textLength="197" lengthAdjust="spacing">removal</text>
<text x="921.5" y="711.7" font-size="67.5" textLength="180" lengthAdjust="spacing">End of</text>
<text x="922.5" y="785.6" font-size="67.5" textLength="277" lengthAdjust="spacing">gas supply</text>
<text x="662.5" y="1108.9" font-size="67.5" textLength="301" lengthAdjust="spacing">Gauging of</text>
<text x="663.5" y="1189.9" font-size="67.5" textLength="308" lengthAdjust="spacing">injected gas</text>
</g>
</svg>
</body></html>
